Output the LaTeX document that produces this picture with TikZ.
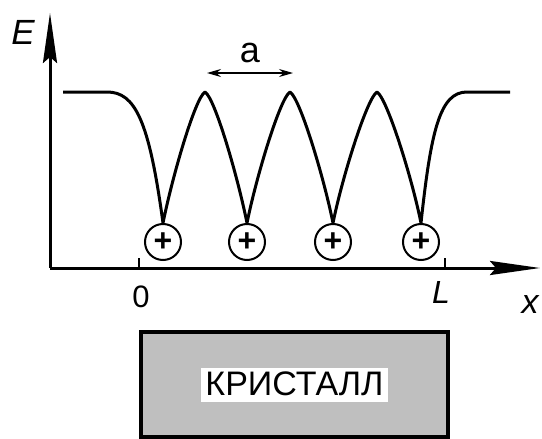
\documentclass[tikz,border=0pt]{standalone}
\usepackage{fontspec}
\setmainfont{Liberation Sans}
\usetikzlibrary{arrows.meta,positioning}

\begin{document}
\begin{tikzpicture}[x=0.5pt,y=-0.5pt,
    axis/.style={line width=1.5pt,-{Stealth[length=25pt,width=7pt,inset=3pt]}},
    ion/.style={circle,draw,line width=1pt,minimum size=18pt,inner sep=0pt,
      font=\fontsize{16}{16}\selectfont\bfseries},
    band/.style={line width=1.5pt,line join=round},
    lbl/.style={inner sep=0pt,anchor=base}]
  \useasboundingbox (0,0) rectangle (542,439);
  % axes
  \coordinate (o) at (50,268);
  \coordinate (etop) at (50,13);
  \coordinate (xend) at (540,268);
  \draw[axis] (o) -- (etop);
  \draw[axis] (o) -- (xend);
  \coordinate (t0) at (139,268);
  \coordinate (tL) at (445,268);
  \draw[line width=1pt] (t0) -- ++(0,-10);
  \draw[line width=1pt] (tL) -- ++(0,-10);
  \node[lbl,font=\fontsize{17.5}{20}\selectfont\itshape] (lE) at (23,45) {E};
  \node[lbl,font=\fontsize{15.5}{18}\selectfont] (l0) at (141,307) {0};
  \node[lbl,font=\fontsize{16}{18}\selectfont\itshape] (lL) at (441,303) {L};
  \node[lbl,font=\fontsize{17}{20}\selectfont\itshape] (lx) at (530,313) {x};
  % ions
  \foreach \n/\xx in {1/163,2/247,3/333,4/421}
    \node[ion] (ion\n) at (\xx,242) {+};
  % peaks
  \coordinate (p1) at (205,92);
  \coordinate (p2) at (290,92);
  \coordinate (p3) at (377,92);
  \draw[band] (63,92) -- (107,92) .. controls (135,92) and (149,120) .. (ion1.north)
    .. controls +(9,-45) and +(-10,6) .. (p1)
    .. controls +(10,6) and +(-9,-45) .. (ion2.north)
    .. controls +(9,-45) and +(-10,6) .. (p2)
    .. controls +(10,6) and +(-9,-45) .. (ion3.north)
    .. controls +(9,-45) and +(-10,6) .. (p3)
    .. controls +(10,6) and +(-9,-45) .. (ion4.north)
    .. controls (431,130) and (440,92) .. (467,92) -- (510,92);
  % lattice period
  \coordinate (a1) at (207,73);
  \coordinate (a2) at (293,73);
  \draw[line width=0.6pt,{Stealth[length=7pt,width=4pt]}-{Stealth[length=7pt,width=4pt]}] (a1) -- (a2);
  \node[lbl,font=\fontsize{18}{20}\selectfont] (la) at (250,62) {a};
  % crystal
  \node[draw,line width=2pt,fill=gray!50,minimum width=153.5pt,minimum height=52.5pt,
    inner sep=0pt] (crystal) at (294.5,384.5) {};
  \node[fill=white,inner xsep=2pt,inner ysep=1pt,text height=13pt,text depth=2pt,
    font=\fontsize{17}{20}\selectfont] (name) at (crystal.center) {КРИСТАЛЛ};
\end{tikzpicture}
\end{document}
